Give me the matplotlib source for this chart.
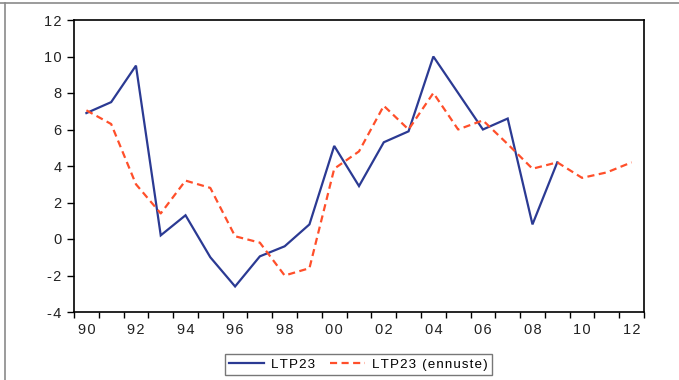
import matplotlib
matplotlib.use("Agg")
import matplotlib.pyplot as plt
from matplotlib.lines import Line2D
import numpy as np

plt.rcParams['font.family'] = ['Liberation Sans', 'DejaVu Sans']

years = list(range(1990, 2013))
ltp23 = [6.9, 7.5, 9.5, 0.2, 1.3, -1.0, -2.6, -0.95, -0.4, 0.8,
         5.1, 2.9, 5.3, 5.9, 10.0, 8.0, 6.0, 6.6, 0.8, 4.2]
ltp23_forecast = [7.05, 6.3, 3.0, 1.4, 3.2, 2.8, 0.15, -0.2, -2.0, -1.6,
                  3.85, 4.8, 7.3, 6.0, 8.0, 6.0, 6.5, 5.2, 3.85, 4.2,
                  3.35, 3.65, 4.2]
tick_labels = [f"{y % 100:02d}" for y in years[::2]]
y_ticks = [-4, -2, 0, 2, 4, 6, 8, 10, 12]
series_names = ['LTP23', 'LTP23 (ennuste)']

blue = '#2B3A93'
red = '#FF4F2A'
HS = '\u200a'  # hair space for letter spacing


def spaced(s):
    return HS.join(s)


fig = plt.figure(figsize=(6.79, 3.80), dpi=100)
ax = fig.add_axes([74 / 679, 1 - 312 / 380, (644 - 74) / 679, (312 - 20) / 380])

x_a = np.arange(len(ltp23))
x_f = np.arange(len(ltp23_forecast))
dash = (0, (3.2, 2.0))
ax.plot(x_a, ltp23, color=blue, lw=1.6, solid_joinstyle='miter')
ax.plot(x_f, ltp23_forecast, color=red, lw=1.6, ls=dash)

n = len(years)
ax.set_xlim(-0.5, n - 0.5)
ax.set_ylim(-4, 12)
ax.set_yticks(y_ticks)
ax.set_yticklabels([spaced(str(v)) for v in y_ticks], fontsize=10.5, color='#222222')

# category boundaries carry the tick marks, labels sit at category centres
ax.set_xticks(np.arange(n + 1) - 0.5)
ax.set_xticklabels([''] * (n + 1))
ax.set_xticks(np.arange(0, n, 2), minor=True)
ax.set_xticklabels([spaced(t) for t in tick_labels], minor=True, fontsize=10.5,
                   color='#222222')
ax.tick_params(axis='x', which='major', direction='out', length=4, width=1)
ax.tick_params(axis='x', which='minor', length=0, pad=8)
ax.tick_params(axis='y', direction='out', length=5, width=1, pad=4)

for s in ax.spines.values():
    s.set_linewidth(1.2)
    s.set_color('black')

handles = [Line2D([], [], color=blue, lw=1.6),
           Line2D([], [], color=red, lw=1.6, ls=dash)]
leg = fig.legend(handles, [spaced(s) for s in series_names], loc='center',
                 bbox_to_anchor=(0.528, 0.041), ncol=2, frameon=True,
                 fancybox=False, fontsize=9.6, handlelength=2.6,
                 columnspacing=1.1, handletextpad=0.55, borderpad=0.3)
leg.get_frame().set_edgecolor('#555555')
leg.get_frame().set_linewidth(1.0)

# outer frame edges
fig.add_artist(Line2D([0, 1], [1 - 3 / 380, 1 - 3 / 380], transform=fig.transFigure,
                      color='#8a8a8a', lw=1.2))
fig.add_artist(Line2D([5 / 679, 5 / 679], [0, 1 - 3 / 380], transform=fig.transFigure,
                      color='#8a8a8a', lw=1.2))

fig.savefig('out.png', dpi=100)
